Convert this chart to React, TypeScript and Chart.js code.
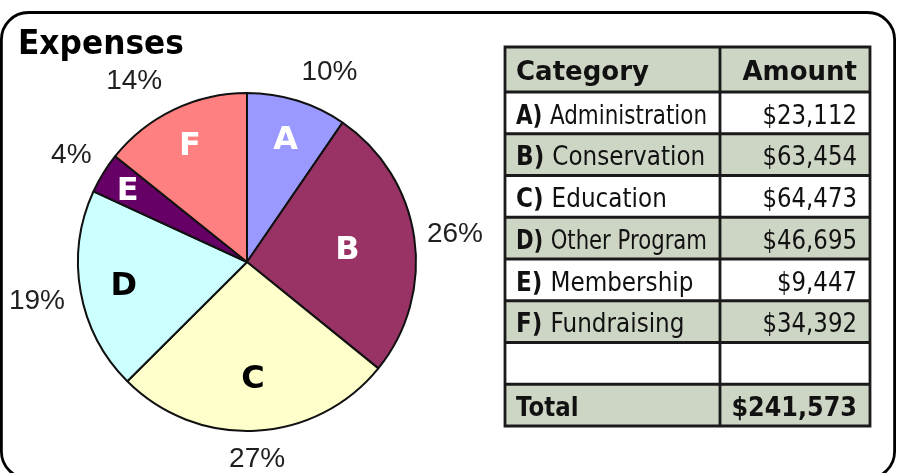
import React, { useEffect, useRef } from "react";
import { Chart, registerables } from "chart.js";

Chart.register(...registerables);

// ---- data ----
const title = "Expenses";
const letters = ["A", "B", "C", "D", "E", "F"];
const categories = ["Administration", "Conservation", "Education", "Other Program", "Membership", "Fundraising"];
const amounts = [23112, 63454, 64473, 46695, 9447, 34392];
const headers = ["Category", "Amount"];
const totalLabel = "Total";

// ---- style ----
const sliceColors = ["#9999FF", "#993366", "#FFFFCC", "#CCFFFF", "#660066", "#FF8080"];
const letterColors = ["#ffffff", "#ffffff", "#000000", "#000000", "#ffffff", "#ffffff"];
const letterRadius = [0.77, 0.6, 0.68, 0.74, 0.83, 0.78];
const pctAngleNudge = [6, 0, 0, 0, 0, -6]; // degrees, label placement tweak
const pctDistNudge = [5, -3, 0, 0, 0, 8]; // px, label placement tweak
const tableGreen = "#CDD5C4";
const SANS = '"DejaVu Sans", Verdana, sans-serif';
const ARIAL = '"Liberation Sans", Arial, sans-serif';

const W = 905;
const H = 473;

const money = (n: number) => "$" + n.toLocaleString("en-US");

type Part = { text: string; font: string };

function drawParts(
  ctx: CanvasRenderingContext2D,
  parts: Part[],
  x: number,
  y: number,
  align: "left" | "right",
  sx: number,
  maxW: number
) {
  let nat = 0;
  const widths = parts.map((p) => {
    ctx.font = p.font;
    const w = ctx.measureText(p.text).width;
    nat += w;
    return w;
  });
  const scale = Math.min(sx, maxW / nat);
  const start = align === "right" ? x - nat * scale : x;
  ctx.save();
  ctx.translate(start, y);
  ctx.scale(scale, 1);
  ctx.textAlign = "left";
  ctx.textBaseline = "alphabetic";
  let off = 0;
  parts.forEach((p, i) => {
    ctx.font = p.font;
    ctx.fillText(p.text, off, 0);
    off += widths[i];
  });
  ctx.restore();
}

const decorPlugin = {
  id: "decor",
  beforeDraw(chart: any) {
    const ctx = chart.ctx as CanvasRenderingContext2D;
    ctx.save();
    ctx.fillStyle = "#ffffff";
    ctx.fillRect(0, 0, W, H);
    ctx.restore();
  },
  afterDraw(chart: any) {
    const ctx = chart.ctx as CanvasRenderingContext2D;
    ctx.save();

    // rounded frame
    ctx.strokeStyle = "#000";
    ctx.lineWidth = 2.8;
    ctx.beginPath();
    (ctx as any).roundRect(1.4, 12.5, 893.2, 466, 27);
    ctx.stroke();

    // title
    ctx.fillStyle = "#000";
    drawParts(ctx, [{ text: title, font: `bold 34px ${SANS}` }], 18, 54, "left", 0.92, 400);

    // slice letters and percentages
    const meta = chart.getDatasetMeta(0);
    const total = amounts.reduce((a, b) => a + b, 0);
    meta.data.forEach((arc: any, i: number) => {
      const p = arc.getProps(["x", "y", "startAngle", "endAngle", "outerRadius"], true);
      const mid = (p.startAngle + p.endAngle) / 2;
      const c = Math.cos(mid);
      const s = Math.sin(mid);
      // letter
      const lr = p.outerRadius * letterRadius[i];
      ctx.font = `bold 32px ${SANS}`;
      ctx.fillStyle = letterColors[i];
      ctx.textAlign = "center";
      ctx.textBaseline = "alphabetic";
      ctx.fillText(letters[i], p.x + c * lr, p.y + s * lr + 11.5);
      // percentage
      const pa = mid + (pctAngleNudge[i] * Math.PI) / 180;
      const pc = Math.cos(pa);
      const ps = Math.sin(pa);
      const pct = Math.round((amounts[i] / total) * 100) + "%";
      ctx.font = `28px ${ARIAL}`;
      const tw = ctx.measureText(pct).width;
      const capH = 20;
      const d = p.outerRadius + 15 + pctDistNudge[i] + Math.abs(pc) * tw / 2 + Math.abs(ps) * capH / 2;
      ctx.fillStyle = "#1f1f1f";
      ctx.fillText(pct, p.x + pc * d, p.y + ps * d + capH / 2);
    });

    // table
    const tx = 505;
    const ty = 47;
    const c1 = 215;
    const c2 = 150;
    const headH = 45;
    const rowH = 41.75;
    const nRows = categories.length + 2;
    const bottom = ty + headH + nRows * rowH;

    ctx.fillStyle = tableGreen;
    ctx.fillRect(tx, ty, c1 + c2, headH);
    for (let i = 0; i < nRows; i++) {
      ctx.fillStyle = i % 2 === 1 ? tableGreen : "#ffffff";
      ctx.fillRect(tx, ty + headH + i * rowH, c1 + c2, rowH);
    }

    ctx.strokeStyle = "#1a1a1a";
    ctx.lineWidth = 2.8;
    ctx.lineCap = "square";
    ctx.beginPath();
    const hl = [ty, ty + headH];
    for (let i = 1; i <= nRows; i++) hl.push(ty + headH + i * rowH);
    hl.forEach((y) => {
      ctx.moveTo(tx, y);
      ctx.lineTo(tx + c1 + c2, y);
    });
    [tx, tx + c1, tx + c1 + c2].forEach((x) => {
      ctx.moveTo(x, ty);
      ctx.lineTo(x, bottom);
    });
    ctx.stroke();

    ctx.fillStyle = "#111";
    const leftX = tx + 11;
    const rightX = tx + c1 + c2 - 13;
    const maxL = c1 - 24;
    const maxR = c2 - 18;
    drawParts(ctx, [{ text: headers[0], font: `bold 26px ${SANS}` }], leftX, ty + 33, "left", 1, maxL);
    drawParts(ctx, [{ text: headers[1], font: `bold 26px ${SANS}` }], rightX, ty + 33, "right", 1, maxR);

    categories.forEach((cat, i) => {
      const by = ty + headH + i * rowH + 31.5;
      drawParts(
        ctx,
        [
          { text: letters[i] + ") ", font: `bold 26px ${SANS}` },
          { text: cat, font: `26px ${SANS}` },
        ],
        leftX,
        by,
        "left",
        0.89,
        maxL
      );
      drawParts(ctx, [{ text: money(amounts[i]), font: `26px ${SANS}` }], rightX, by, "right", 0.88, maxR);
    });
    const tby = ty + headH + (nRows - 1) * rowH + 31.5;
    drawParts(ctx, [{ text: totalLabel, font: `bold 26px ${SANS}` }], leftX, tby, "left", 0.88, maxL);
    drawParts(ctx, [{ text: money(total), font: `bold 26px ${SANS}` }], rightX, tby, "right", 0.92, maxR);

    ctx.restore();
  },
};

export default function App() {
  const ref = useRef<HTMLCanvasElement>(null);
  useEffect(() => {
    document.body.style.margin = "0";
    const canvas = ref.current!;
    const chart = new Chart(canvas, {
      type: "pie",
      data: {
        labels: categories,
        datasets: [
          {
            data: amounts,
            backgroundColor: sliceColors,
            borderColor: "#111111",
            borderWidth: 2,
          },
        ],
      },
      options: {
        responsive: false,
        animation: false,
        layout: { padding: { left: 77, top: 92, right: 488, bottom: 41 } },
        plugins: {
          legend: { display: false },
          tooltip: { enabled: false },
          title: { display: false },
        },
      },
      plugins: [decorPlugin],
    });
    return () => chart.destroy();
  }, []);
  return <canvas ref={ref} width={W} height={H} style={{ display: "block", width: W, height: H }} />;
}
